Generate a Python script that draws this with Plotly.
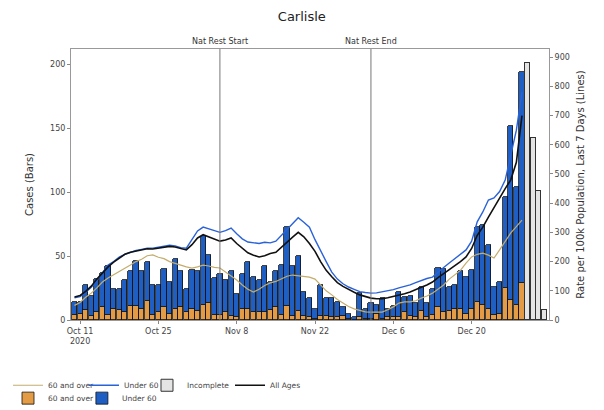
import plotly.graph_objects as go
import pandas as pd

dates = pd.date_range("2020-10-10", "2020-12-29", freq="D")
incomplete_dates = pd.date_range("2020-12-30", "2021-01-02", freq="D")

# total cases per day (bars: 60+ stacked with under 60)
total_cases = [
    14, 14, 27, 19, 32, 37, 42, 24, 24, 31, 38, 46, 38, 45, 27, 27, 40, 30, 48, 38, 24, 39,  # Oct 10-31
    38, 66, 51, 33, 36, 31, 38, 20, 36, 45, 34, 31, 42, 30, 38, 43, 73, 42, 50, 22, 17, 9,
    27, 17, 17, 14, 10, 5, 2, 21,  # Nov
    9, 13, 12, 17, 9, 11, 22, 18, 19, 13, 26, 13, 24, 41, 40, 26, 27, 38, 34, 39, 73, 74,
    59, 26, 30, 96, 152, 104, 194,  # Dec 1-29
]
over60_cases = [
    4, 5, 8, 3, 6, 10, 4, 9, 8, 6, 11, 11, 9, 15, 4, 6, 10, 5, 9, 10, 6, 9,
    7, 12, 13, 4, 4, 6, 3, 2, 9, 9, 6, 6, 6, 8, 10, 4, 11, 3, 7, 3, 2, 1,
    3, 3, 2, 2, 3, 1, 0, 2,
    1, 1, 5, 1, 2, 2, 2, 6, 3, 2, 7, 2, 4, 10, 6, 7, 9, 9, 5, 9, 14, 12,
    9, 4, 5, 25, 16, 12, 29,
]
under60_cases = [t - o for t, o in zip(total_cases, over60_cases)]
incomplete_cases = [201, 142, 101, 8]

# 7-day rate per 100k (lines)
rate_all = [
    79, 84, 98, 116, 140, 160, 182, 198, 212, 225, 232, 236, 240, 244, 243, 246, 249, 252, 250, 244, 240, 258,
    281, 292, 284, 276, 270, 274, 281, 262, 245, 230, 222, 216, 220, 228, 232, 250, 268, 284, 300, 285, 262, 235,
    200, 170, 148, 128, 115, 104, 95, 86,
    80, 75, 73, 73, 76, 80, 86, 90, 96, 103, 112, 120, 130, 145, 158, 171, 186, 200, 216, 245, 290, 318,
    352, 385, 420, 450, 480, 540, 700,
]
rate_under60 = [
    76, 80, 95, 112, 135, 160, 188, 200, 215, 225, 232, 238, 242, 246, 246, 250, 254, 256, 254, 248, 246, 275,
    305, 318, 312, 305, 300, 306, 315, 295, 278, 267, 264, 262, 266, 264, 270, 290, 308, 330, 350, 335, 318, 275,
    240, 200, 164, 140, 124, 113, 105, 97,
    94, 92, 93, 96, 100, 104, 110, 114, 120, 128, 136, 142, 147, 165, 180, 195, 210, 222, 240, 270, 336, 370,
    411, 418, 440, 479, 560, 650, 780,
]
rate_over60 = [
    50, 60, 78, 92, 110, 130, 144, 155, 165, 175, 188, 200, 208, 220, 223, 215, 210, 200, 195, 188, 182, 178,
    182, 188, 185, 180, 178, 165, 150, 137, 120, 105, 96, 105, 118, 127, 132, 140, 150, 154, 152, 148, 147, 140,
    120, 100, 86, 70, 58, 46, 38, 32,
    28, 27, 26, 27, 35, 45, 58, 62, 62, 66, 75, 82, 92, 105, 120, 140, 154, 170, 195, 216, 225, 229,
    222, 212, 240, 270, 298, 320, 342,
]

tick_dates = ["2020-10-11", "2020-10-25", "2020-11-08", "2020-11-22", "2020-12-06", "2020-12-20"]
tick_labels = ["Oct 11<br>2020", "Oct 25", "Nov 8", "Nov 22", "Dec 6", "Dec 20"]
events = [("2020-11-05", "Nat Rest Start"), ("2020-12-02", "Nat Rest End")]

DAY_MS = 86400000
bar_w = DAY_MS * 0.92
edge = dict(color="#111111", width=0.8)
C_OVER = "#e39c45"
C_UNDER = "#1f5fc4"
C_LINE60 = "#c4ac6c"

fig = go.Figure()
fig.add_trace(go.Bar(x=dates, y=over60_cases, width=bar_w, name="60 and over",
                     marker=dict(color=C_OVER, line=edge), legend="legend5"))
fig.add_trace(go.Bar(x=dates, y=under60_cases, width=bar_w, name="Under 60",
                     marker=dict(color=C_UNDER, line=edge), legend="legend6"))
fig.add_trace(go.Bar(x=incomplete_dates, y=incomplete_cases, width=bar_w, name="Incomplete",
                     marker=dict(color="#e4e4e4", line=dict(color="#333333", width=1)),
                     legend="legend3"))
fig.add_trace(go.Scatter(x=dates, y=rate_over60, mode="lines", name="60 and over", yaxis="y2",
                         line=dict(color=C_LINE60, width=1.2), legend="legend"))
fig.add_trace(go.Scatter(x=dates, y=rate_under60, mode="lines", name="Under 60", yaxis="y2",
                         line=dict(color="#2a62d8", width=1.4), legend="legend2"))
fig.add_trace(go.Scatter(x=dates, y=rate_all, mode="lines", name="All Ages", yaxis="y2",
                         line=dict(color="#111111", width=1.6), legend="legend4"))

for d, label in events:
    fig.add_shape(type="line", x0=d, x1=d, xref="x", y0=0, y1=1, yref="paper",
                  line=dict(color="#777777", width=1))
    fig.add_annotation(x=d, y=1, xref="x", yref="paper", text=label, showarrow=False,
                       yanchor="bottom", yshift=1, font=dict(size=8, color="#333333"))

tick_font = dict(size=8, color="#444444")
leg_font = dict(size=7.5, color="#444444")


def leg(x, y):
    return dict(orientation="h", xref="container", yref="container", x=x, xanchor="left",
                y=y, yanchor="top", font=leg_font, itemwidth=30,
                bgcolor="rgba(0,0,0,0)")


ROW1, ROW2 = 0.0976, 0.0656
fig.update_layout(
    width=596, height=402,
    margin=dict(l=63, r=55, t=41, b=90, autoexpand=False),
    paper_bgcolor="white", plot_bgcolor="white",
    font=dict(family="DejaVu Sans", color="#333333"),
    title=dict(text="Carlisle", x=0.493, xref="container", y=0.978, yanchor="middle",
               font=dict(size=13, color="#222222")),
    barmode="stack",
    bargap=0,
    showlegend=True,
    xaxis=dict(type="date", range=["2020-10-09 09:00", "2021-01-02 20:00"],
               tickvals=tick_dates, ticktext=tick_labels, tickfont=tick_font,
               ticks="outside", ticklen=3, tickcolor="#888888",
               showgrid=False, showline=True, linecolor="#999999", mirror=True, zeroline=False),
    yaxis=dict(range=[0, 212], tickvals=[0, 50, 100, 150, 200], tickfont=tick_font,
               ticks="outside", ticklen=3, tickcolor="#888888",
               showgrid=False, showline=True, linecolor="#999999", zeroline=False,
               title=dict(text="Cases (Bars)", font=dict(size=10, color="#333333"), standoff=14)),
    yaxis2=dict(range=[0, 928], overlaying="y", side="right",
                tickvals=[0, 100, 200, 300, 400, 500, 600, 700, 800, 900], tickfont=tick_font,
                ticks="outside", ticklen=3, tickcolor="#888888",
                showgrid=False, showline=True, linecolor="#999999", zeroline=False,
                title=dict(text="Rate per 100k Population, Last 7 Days (Lines)",
                           font=dict(size=10, color="#333333"), standoff=8)),
    legend=leg(0.0, ROW1),
    legend2=leg(0.1275, ROW1),
    legend3=leg(0.2332, ROW1),
    legend4=leg(0.3725, ROW1),
    legend5=leg(0.0, ROW2),
    legend6=leg(0.124, ROW2),
)

fig.write_html("out.html")
